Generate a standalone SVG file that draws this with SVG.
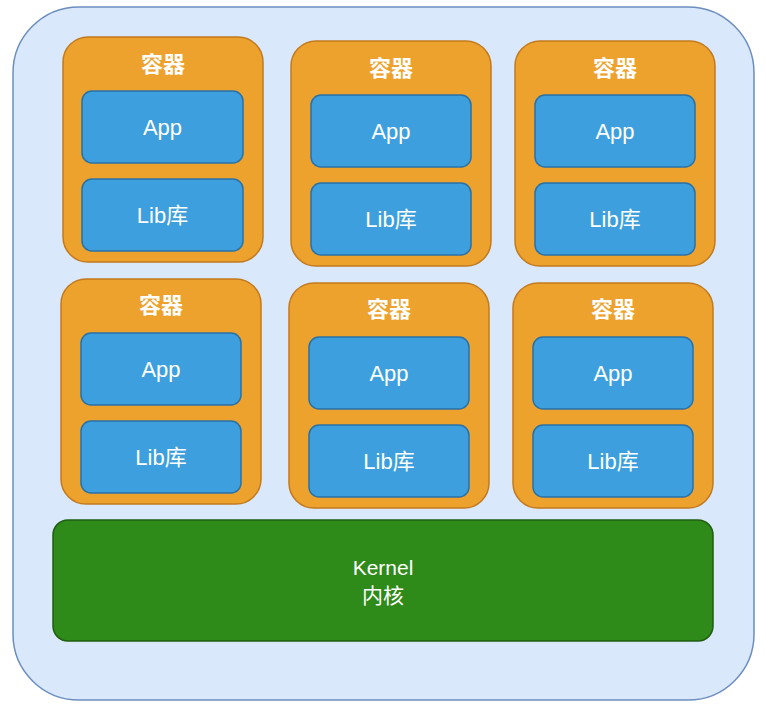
<svg xmlns="http://www.w3.org/2000/svg" width="766" height="712" viewBox="0 0 766 712">
<style>
.outer{fill:#dae8fc;stroke:#6c8ebf;stroke-width:1.5}
.box{fill:#eea22e;stroke:#c27a1c;stroke-width:1.5}
.inner{fill:#3d9fdd;stroke:#2872a8;stroke-width:1.5}
.kernel{fill:#2e8a19;stroke:#1f5e10;stroke-width:1.5}
text{fill:#ffffff;font-family:"Liberation Sans","Noto Sans CJK SC",sans-serif;text-anchor:middle;dominant-baseline:central}
.t{font-size:22px}
.h{font-size:22px;font-weight:bold}
.k{font-size:21px}
</style>
<rect class="outer" x="13" y="7" width="741" height="693" rx="66" ry="66"/>
<g id="c1">
<rect class="box" x="63" y="37" width="200" height="225" rx="25"/>
<text class="h" x="163" y="64">容器</text>
<rect class="inner" x="82" y="91" width="161" height="72" rx="10"/>
<text class="t" x="162.5" y="127">App</text>
<rect class="inner" x="82" y="179" width="161" height="72" rx="10"/>
<text class="t" x="162.5" y="215">Lib库</text>
</g>
<g id="c2">
<rect class="box" x="291" y="41" width="200" height="225" rx="25"/>
<text class="h" x="391" y="68">容器</text>
<rect class="inner" x="311" y="95" width="160" height="72" rx="10"/>
<text class="t" x="391" y="131">App</text>
<rect class="inner" x="311" y="183" width="160" height="72" rx="10"/>
<text class="t" x="391" y="219">Lib库</text>
</g>
<g id="c3">
<rect class="box" x="515" y="41" width="200" height="225" rx="25"/>
<text class="h" x="615" y="68">容器</text>
<rect class="inner" x="535" y="95" width="160" height="72" rx="10"/>
<text class="t" x="615" y="131">App</text>
<rect class="inner" x="535" y="183" width="160" height="72" rx="10"/>
<text class="t" x="615" y="219">Lib库</text>
</g>
<g id="c4">
<rect class="box" x="61" y="279" width="200" height="225" rx="25"/>
<text class="h" x="161" y="305">容器</text>
<rect class="inner" x="81" y="333" width="160" height="72" rx="10"/>
<text class="t" x="161" y="369">App</text>
<rect class="inner" x="81" y="421" width="160" height="72" rx="10"/>
<text class="t" x="161" y="457">Lib库</text>
</g>
<g id="c5">
<rect class="box" x="289" y="283" width="200" height="225" rx="25"/>
<text class="h" x="389" y="309">容器</text>
<rect class="inner" x="309" y="337" width="160" height="72" rx="10"/>
<text class="t" x="389" y="373">App</text>
<rect class="inner" x="309" y="425" width="160" height="72" rx="10"/>
<text class="t" x="389" y="461">Lib库</text>
</g>
<g id="c6">
<rect class="box" x="513" y="283" width="200" height="225" rx="25"/>
<text class="h" x="613" y="309">容器</text>
<rect class="inner" x="533" y="337" width="160" height="72" rx="10"/>
<text class="t" x="613" y="373">App</text>
<rect class="inner" x="533" y="425" width="160" height="72" rx="10"/>
<text class="t" x="613" y="461">Lib库</text>
</g>
<g id="kernel">
<rect class="kernel" x="53" y="520" width="660" height="121" rx="15"/>
<text class="k" x="383" y="567">Kernel</text>
<text class="k" x="383" y="595">内核</text>
</g>
<g id="connectors"></g>
</svg>
